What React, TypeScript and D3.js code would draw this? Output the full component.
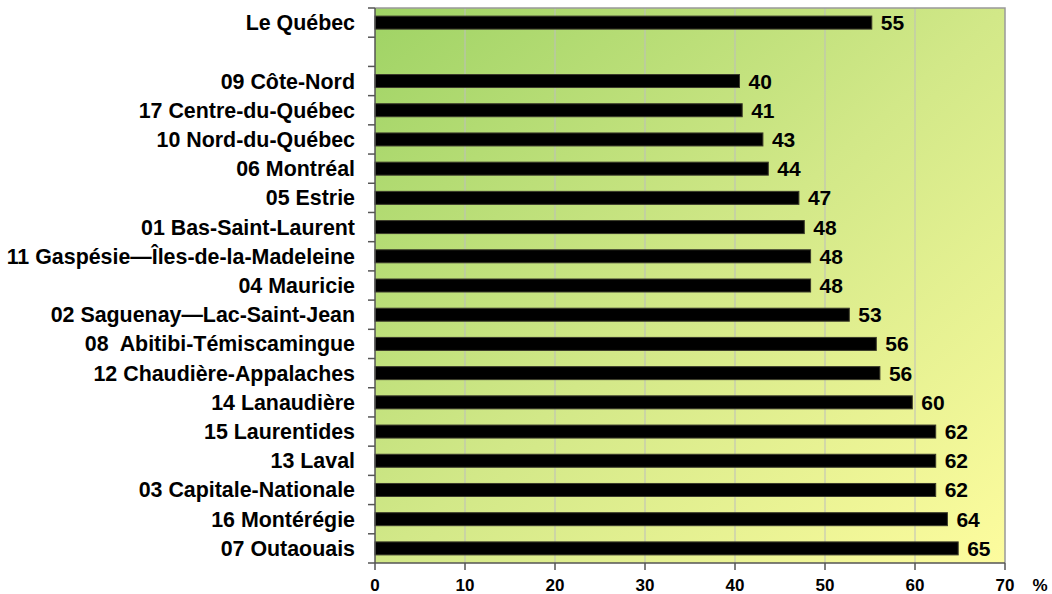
import React from "react";
import { scaleBand, scaleLinear, range } from "d3";

// regions, in chart order (top to bottom); the empty one is the gap row
const categories = [
  "Le Québec",
  "",
  "09 Côte-Nord",
  "17 Centre-du-Québec",
  "10 Nord-du-Québec",
  "06 Montréal",
  "05 Estrie",
  "01 Bas-Saint-Laurent",
  "11 Gaspésie—Îles-de-la-Madeleine",
  "04 Mauricie",
  "02 Saguenay—Lac-Saint-Jean",
  "08  Abitibi-Témiscamingue",
  "12 Chaudière-Appalaches",
  "14 Lanaudière",
  "15 Laurentides",
  "13 Laval",
  "03 Capitale-Nationale",
  "16 Montérégie",
  "07 Outaouais",
];
const values = [55.2, null, 40.5, 40.8, 43.1, 43.7, 47.1, 47.7, 48.4, 48.4, 52.7, 55.7, 56.1, 59.7, 62.3, 62.3, 62.3, 63.6, 64.8];
const valueLabels = ["55", "", "40", "41", "43", "44", "47", "48", "48", "48", "53", "56", "56", "60", "62", "62", "62", "64", "65"];
const xTicks = [0, 10, 20, 30, 40, 50, 60, 70];

const W = 1052;
const H = 594;
const plot = { left: 375, right: 1005, top: 8, bottom: 563 };
const font = "'Liberation Sans', Arial, sans-serif";

export default function App() {
  const x = scaleLinear().domain([0, 70]).range([plot.left, plot.right]);
  const y = scaleBand<number>()
    .domain(range(categories.length))
    .range([plot.top, plot.bottom])
    .paddingInner(0)
    .paddingOuter(0);
  const bw = y.bandwidth();
  const barH = 13;

  return (
    <svg width={W} height={H} style={{ position: "absolute", left: 0, top: 0 }} fontFamily={font}>
      <defs>
        <linearGradient id="bg" x1="0" y1="0" x2="1" y2="1">
          <stop offset="0" stopColor="#9fd365" />
          <stop offset="0.5" stopColor="#d2e888" />
          <stop offset="1" stopColor="#fdfc9e" />
        </linearGradient>
      </defs>

      {/* plot background */}
      <rect x={plot.left} y={plot.top} width={plot.right - plot.left} height={plot.bottom - plot.top} fill="url(#bg)" />

      {/* grid lines */}
      {xTicks.slice(1, -1).map((t) => (
        <line key={t} x1={x(t)} x2={x(t)} y1={plot.top} y2={plot.bottom} stroke="#bdbdbd" strokeWidth={1} />
      ))}

      {/* plot border top/right */}
      <path d={`M${plot.left},${plot.top}H${plot.right}V${plot.bottom}`} fill="none" stroke="#999" strokeWidth={1.5} />

      {/* bars */}
      {values.map((v, i) =>
        v == null ? null : (
          <g key={i}>
            <rect
              x={x(0)}
              y={(y(i) as number) + bw / 2 - barH / 2}
              width={x(v) - x(0)}
              height={barH}
              fill="#000"
              stroke="#3a3a2a"
              strokeWidth={1}
            />
            <text x={x(v) + 9} y={(y(i) as number) + bw / 2 + 7.5} fontSize={21} fontWeight="bold" fill="#000">
              {valueLabels[i]}
            </text>
          </g>
        )
      )}

      {/* y axis */}
      <line x1={plot.left} x2={plot.left} y1={plot.top} y2={plot.bottom} stroke="#555" strokeWidth={1.5} />
      {range(categories.length + 1).map((i) => {
        const yy = plot.top + i * bw;
        return <line key={i} x1={plot.left - 7} x2={plot.left} y1={yy} y2={yy} stroke="#555" strokeWidth={1.5} />;
      })}
      {categories.map((c, i) => (
        <text
          key={i}
          x={355}
          y={(y(i) as number) + bw / 2 + 7.5}
          textAnchor="end"
          fontSize={21.4}
          fontWeight="bold"
          fill="#000"
          style={{ whiteSpace: "pre" }}
        >
          {c}
        </text>
      ))}

      {/* x axis */}
      <line x1={plot.left} x2={plot.right} y1={plot.bottom} y2={plot.bottom} stroke="#555" strokeWidth={1.5} />
      {xTicks.map((t) => (
        <g key={t}>
          <line x1={x(t)} x2={x(t)} y1={plot.bottom} y2={plot.bottom + 7} stroke="#555" strokeWidth={1.5} />
          <text x={x(t)} y={591} textAnchor="middle" fontSize={17} fontWeight="bold" fill="#000">
            {t}
          </text>
        </g>
      ))}
      <text x={1040} y={591} textAnchor="middle" fontSize={17} fontWeight="bold" fill="#000">
        %
      </text>
    </svg>
  );
}
